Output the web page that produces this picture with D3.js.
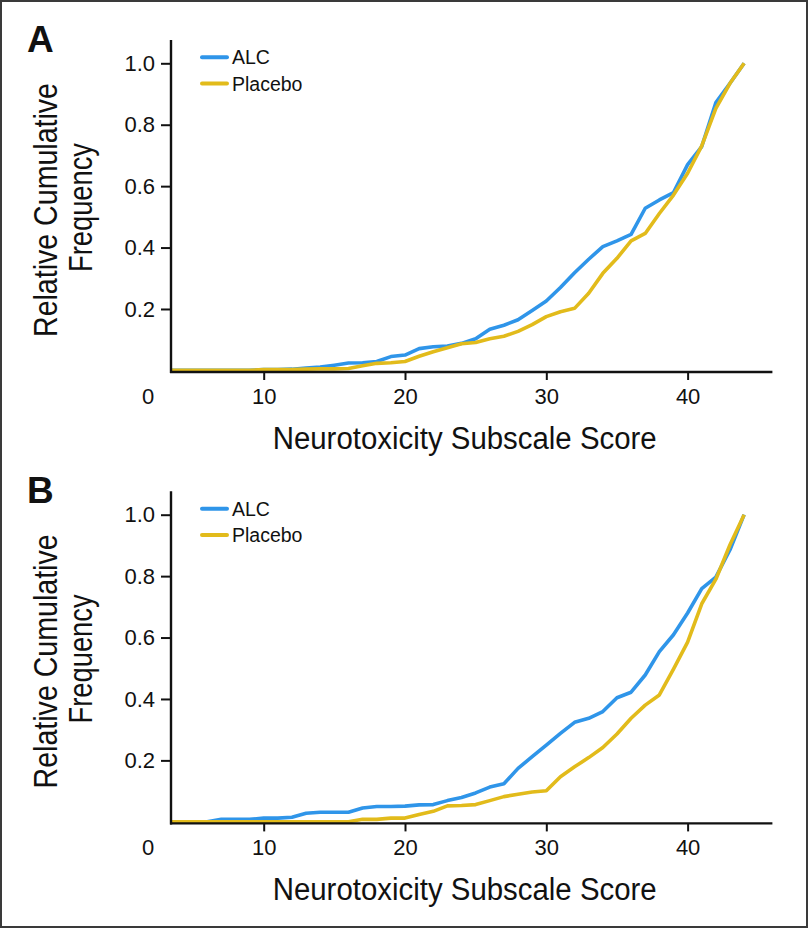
<!DOCTYPE html>
<html>
<head>
<meta charset="utf-8">
<script src="https://cdn.jsdelivr.net/npm/d3@7"></script>
<style>
  html, body { margin: 0; padding: 0; background: #fff; }
  svg { display: block; }
  text { font-family: "Liberation Sans", Arial, Helvetica, sans-serif; fill: #111; }
</style>
</head>
<body>
<svg id="chart" width="809" height="929"></svg>
<script>
// ---- Data ----
const scores = d3.range(3, 45); // 3..44
const panelLabels = ["A", "B"];
const seriesNames = ["ALC", "Placebo"];
const seriesColors = ["#2f95e9", "#e2bb1b"];
const xTicks = [10, 20, 30, 40];
const yTicks = [0.2, 0.4, 0.6, 0.8, 1.0];

const alcA = [0,0,0,0,0,0,0,0.003,0.003,0.004,0.008,0.011,0.017,0.024,0.025,0.029,0.045,0.050,0.071,0.077,0.079,0.088,0.103,0.134,0.147,0.165,0.195,0.226,0.270,0.318,0.362,0.403,0.422,0.443,0.528,0.555,0.579,0.670,0.729,0.872,0.935,1.0];
const placeboA = [0,0,0,0,0,0,0,0.003,0.003,0.003,0.004,0.005,0.005,0.006,0.015,0.023,0.025,0.029,0.046,0.061,0.074,0.087,0.091,0.103,0.111,0.127,0.149,0.175,0.191,0.202,0.251,0.316,0.365,0.422,0.446,0.511,0.571,0.642,0.731,0.853,0.935,1.0];
const alcB = [0,0,0,0,0.008,0.008,0.008,0.012,0.012,0.015,0.028,0.031,0.031,0.031,0.045,0.050,0.050,0.051,0.055,0.056,0.069,0.079,0.094,0.113,0.124,0.174,0.212,0.250,0.288,0.324,0.337,0.359,0.404,0.422,0.478,0.554,0.609,0.680,0.759,0.797,0.886,1.0];
const placeboB = [0,0,0,0,0,0,0,0,0,0,0,0,0,0,0.008,0.008,0.012,0.012,0.024,0.034,0.052,0.053,0.056,0.069,0.082,0.090,0.097,0.101,0.147,0.179,0.209,0.242,0.286,0.337,0.380,0.413,0.497,0.585,0.710,0.790,0.902,1.0];

const panels = [
  { label: panelLabels[0], series: [alcA, placeboA], dy: 0 },
  { label: panelLabels[1], series: [alcB, placeboB], dy: 451.4 }
];

const svg = d3.select("#chart");

// outer frame
svg.append("rect").attr("x", 1).attr("y", 1).attr("width", 806).attr("height", 926)
  .attr("fill", "none").attr("stroke", "#3a3a3a").attr("stroke-width", 2);

const x = d3.scaleLinear().domain([3.44, 46]).range([171, 772.4]);

panels.forEach((p, pi) => {
  const g = svg.append("g").attr("transform", `translate(0,${p.dy})`);
  const y = d3.scaleLinear().domain([0, 1]).range([370.4, 63.3]);
  const yAxisTop = y(1.076);
  const xAxisY = y(0) + 1.6;

  const clipId = "clip" + pi;
  g.append("clipPath").attr("id", clipId).append("rect")
    .attr("x", x.range()[0]).attr("y", 30).attr("width", x.range()[1] - x.range()[0]).attr("height", 360);

  // lines
  const line = d3.line().x((d, i) => x(scores[i])).y(d => y(d));
  p.series.forEach((s, si) => {
    g.append("path").datum(s)
      .attr("clip-path", `url(#${clipId})`)
      .attr("fill", "none")
      .attr("stroke", seriesColors[si])
      .attr("stroke-width", 3.6)
      .attr("stroke-linejoin", "round")
      .attr("d", line);
  });

  // y axis
  const yAxis = d3.axisLeft(y).tickValues(yTicks).tickFormat(d3.format(".1f")).tickSize(10).tickPadding(6);
  const ya = g.append("g").attr("transform", `translate(${x.range()[0]},0)`).call(yAxis);
  ya.select(".domain").remove();
  ya.selectAll(".tick line").attr("stroke", "#111").attr("stroke-width", 2);
  ya.selectAll(".tick text").attr("font-size", 22).attr("fill", "#111")
    .attr("font-family", "'Liberation Sans', Arial, sans-serif");
  g.append("line").attr("x1", x.range()[0]).attr("x2", x.range()[0])
    .attr("y1", yAxisTop).attr("y2", xAxisY + 1)
    .attr("stroke", "#111").attr("stroke-width", 2.4);

  // x axis
  const xAxis = d3.axisBottom(x).tickValues(xTicks).tickFormat(d3.format("d")).tickSize(8).tickPadding(8);
  const xa = g.append("g").attr("transform", `translate(0,${xAxisY})`).call(xAxis);
  xa.select(".domain").remove();
  xa.selectAll(".tick line").attr("stroke", "#111").attr("stroke-width", 2);
  xa.selectAll(".tick text").attr("font-size", 22).attr("fill", "#111")
    .attr("font-family", "'Liberation Sans', Arial, sans-serif");
  g.append("line").attr("x1", x.range()[0] - 1).attr("x2", x.range()[1])
    .attr("y1", xAxisY).attr("y2", xAxisY)
    .attr("stroke", "#111").attr("stroke-width", 2.4);
  // origin label "0"
  g.append("text").attr("x", 148).attr("y", 404).attr("text-anchor", "middle")
    .attr("font-size", 22).text("0");

  // axis titles
  g.append("text").attr("x", 464.7).attr("y", 449).attr("text-anchor", "middle")
    .attr("font-size", 31).attr("textLength", 384).attr("lengthAdjust", "spacingAndGlyphs")
    .text("Neurotoxicity Subscale Score");
  g.append("text").attr("transform", "translate(57,210) rotate(-90)").attr("text-anchor", "middle")
    .attr("font-size", 33).attr("textLength", 254).attr("lengthAdjust", "spacingAndGlyphs")
    .text("Relative Cumulative");
  g.append("text").attr("transform", "translate(92,207.5) rotate(-90)").attr("text-anchor", "middle")
    .attr("font-size", 33).attr("textLength", 129).attr("lengthAdjust", "spacingAndGlyphs")
    .text("Frequency");

  // panel label
  g.append("text").attr("x", 27).attr("y", 52).attr("font-size", 37).attr("font-weight", "bold")
    .text(p.label);

  // legend
  seriesNames.forEach((n, si) => {
    const ly = 57.3 + si * 26.3;
    g.append("line").attr("x1", 202).attr("x2", 227).attr("y1", ly).attr("y2", ly)
      .attr("stroke", seriesColors[si]).attr("stroke-width", 4).attr("stroke-linecap", "round");
    g.append("text").attr("x", 232).attr("y", ly + 7).attr("font-size", 19.5).text(n);
  });
});
</script>
</body>
</html>
